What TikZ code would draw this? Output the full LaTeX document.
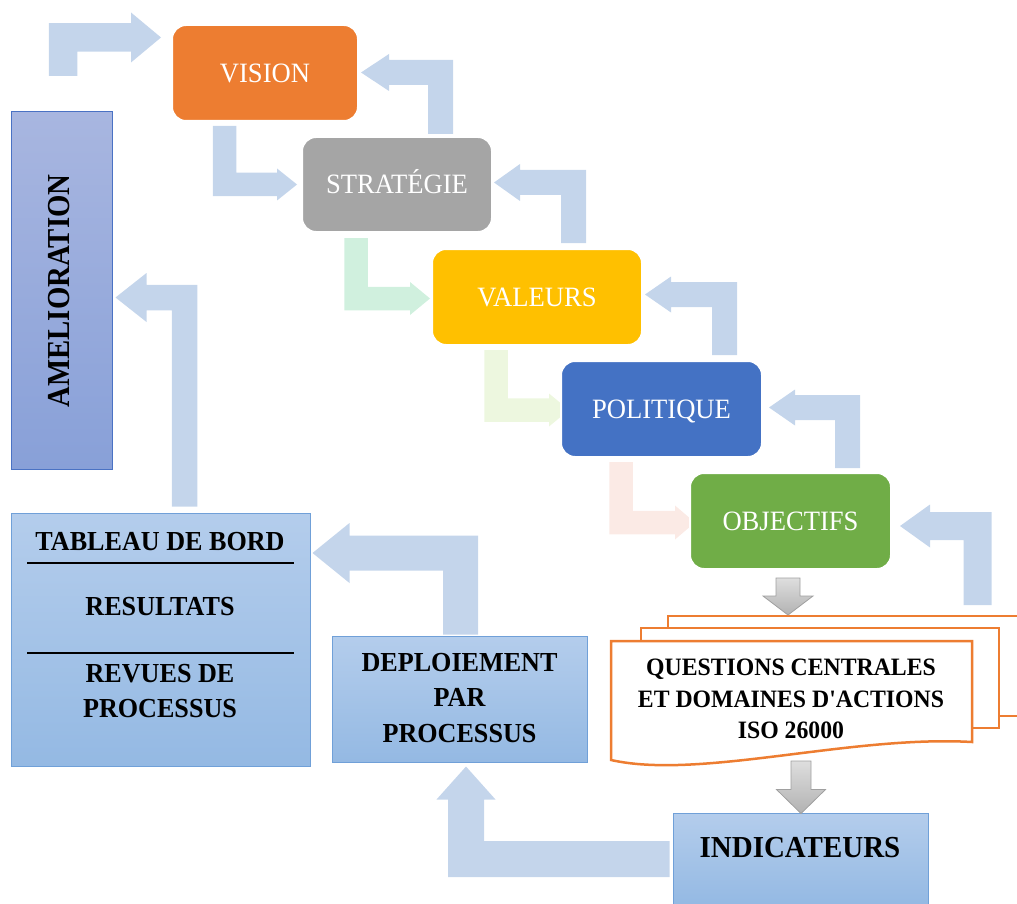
\documentclass[tikz,border=0pt]{standalone}
\usepackage{fontspec}
\setmainfont{Liberation Serif}[Ligatures=TeXOff,FakeStretch=0.95]
\newfontfamily\narrowserif{Liberation Serif}[Ligatures=TeXOff,FakeStretch=0.9]
\usetikzlibrary{calc,backgrounds}

% palette
\definecolor{flowblue}{RGB}{196,213,235}
\definecolor{flowmint}{RGB}{208,240,222}
\definecolor{flowlime}{RGB}{237,247,223}
\definecolor{flowpink}{RGB}{251,234,229}
\definecolor{cvision}{HTML}{ED7D31}
\definecolor{cstrat}{HTML}{A5A5A5}
\definecolor{cval}{HTML}{FFC000}
\definecolor{cpol}{HTML}{4472C4}
\definecolor{cobj}{HTML}{70AD47}
\definecolor{paneltop}{RGB}{180,205,236}
\definecolor{panelbottom}{RGB}{148,185,227}
\definecolor{panelline}{RGB}{112,160,216}
\definecolor{ameltop}{RGB}{168,182,224}
\definecolor{amelbottom}{RGB}{136,160,216}
\definecolor{amelline}{RGB}{74,114,196}
\definecolor{docorange}{HTML}{ED7D31}
\definecolor{graytop}{RGB}{222,222,222}
\definecolor{graybottom}{RGB}{178,178,178}
\definecolor{grayline}{RGB}{160,160,160}

\tikzset{
  stage/.style={rectangle, rounded corners=14pt, draw=white, line width=2pt,
    text=white, font=\fontsize{28}{33}\selectfont, text height=18.5pt,
    text depth=0pt, inner sep=0pt},
  panel/.style={rectangle, draw=panelline, line width=1pt, top color=paneltop,
    bottom color=panelbottom, inner sep=0pt},
  boldlabel/.style={anchor=base, inner sep=0pt,
    font=\bfseries\fontsize{27.5}{33}\selectfont},
  doclabel/.style={anchor=base, inner sep=0pt,
    font=\bfseries\fontsize{25}{30}\selectfont},
  page/.style={draw=docorange, line width=2.5pt, fill=white},
  grayarrow/.style={draw=grayline, line width=0.8pt, top color=graytop,
    bottom color=graybottom},
}

% bent block arrows: style, start (shaft end), tip, half shaft, half head, head length
\newcommand\flowDR[6]{% down, then right
  \path[#1] let \p1=#2, \p2=#3 in
    (\x1-#4,\y1) -- (\x1+#4,\y1) -- (\x1+#4,\y2+#4) -- (\x2-#6,\y2+#4)
    -- (\x2-#6,\y2+#5) -- (\x2,\y2) -- (\x2-#6,\y2-#5) -- (\x2-#6,\y2-#4)
    -- (\x1-#4,\y2-#4) -- cycle;}
\newcommand\flowUL[6]{% up, then left
  \path[#1] let \p1=#2, \p2=#3 in
    (\x1-#4,\y1) -- (\x1+#4,\y1) -- (\x1+#4,\y2+#4) -- (\x2+#6,\y2+#4)
    -- (\x2+#6,\y2+#5) -- (\x2,\y2) -- (\x2+#6,\y2-#5) -- (\x2+#6,\y2-#4)
    -- (\x1-#4,\y2-#4) -- cycle;}
\newcommand\flowUR[6]{% up, then right
  \path[#1] let \p1=#2, \p2=#3 in
    (\x1-#4,\y1) -- (\x1-#4,\y2+#4) -- (\x2-#6,\y2+#4) -- (\x2-#6,\y2+#5)
    -- (\x2,\y2) -- (\x2-#6,\y2-#5) -- (\x2-#6,\y2-#4) -- (\x1+#4,\y2-#4)
    -- (\x1+#4,\y1) -- cycle;}
\newcommand\flowLU[6]{% left, then up
  \path[#1] let \p1=#2, \p2=#3 in
    (\x1,\y1+#4) -- (\x2+#4,\y1+#4) -- (\x2+#4,\y2-#6) -- (\x2+#5,\y2-#6)
    -- (\x2,\y2) -- (\x2-#5,\y2-#6) -- (\x2-#4,\y2-#6) -- (\x2-#4,\y1-#4)
    -- (\x1,\y1-#4) -- cycle;}
\newcommand\flowDown[6]{% straight down
  \path[#1] let \p1=#2, \p2=#3 in
    (\x1-#4,\y1) -- (\x1+#4,\y1) -- (\x1+#4,\y2+#6) -- (\x2+#5,\y2+#6)
    -- (\x2,\y2) -- (\x2-#5,\y2+#6) -- (\x1-#4,\y2+#6) -- cycle;}

\begin{document}
\begin{tikzpicture}[x=1pt,y=-1pt]
\useasboundingbox (0,0) rectangle (1017,904);
\clip (0,0) rectangle (1017,904);

% strategy cascade
\node[stage, fill=cvision, minimum width=186pt, minimum height=96pt] (vision) at (265,73) {VISION};
\node[stage, fill=cstrat, minimum width=190pt, minimum height=95pt] (strat) at (397,184.5) {STRATÉGIE};
\node[stage, fill=cval, minimum width=210pt, minimum height=96pt] (val) at (537,297) {VALEURS};
\node[stage, fill=cpol, minimum width=201pt, minimum height=96pt] (pol) at (661.5,409) {POLITIQUE};
\node[stage, fill=cobj, minimum width=201pt, minimum height=96pt] (obj) at (790.5,521) {OBJECTIFS};

% improvement column
\node[rectangle, draw=amelline, line width=1pt, top color=ameltop, bottom color=amelbottom,
      inner sep=0pt, minimum width=101pt, minimum height=357pt] (amel) at (61.5,290.5) {};
\node[rotate=90, inner sep=0pt, font=\narrowserif\bfseries\fontsize{32}{38}\selectfont]
      (ameltext) at (59,291) {AMELIORATION};

% dashboard panel
\node[panel, minimum width=299pt, minimum height=253pt] (tab) at (160.5,639.5) {};
\node[boldlabel] (tab1) at (160,550) {TABLEAU DE BORD};
\draw[line width=2pt] (27,563) -- (294,563);
\node[boldlabel] (tab2) at (160,615) {RESULTATS};
\draw[line width=2pt] (27,653) -- (294,653);
\node[boldlabel] (tab3) at (160,682) {REVUES DE};
\node[boldlabel] (tab4) at (160,717) {PROCESSUS};

% deployment panel
\node[panel, minimum width=255pt, minimum height=126pt] (dep) at (459.5,699) {};
\node[boldlabel] (dep1) at (459.5,671) {DEPLOIEMENT};
\node[boldlabel] (dep2) at (459.5,706) {PAR};
\node[boldlabel] (dep3) at (459.5,742) {PROCESSUS};

% indicators panel
\node[panel, minimum width=255pt, minimum height=92pt] (ind) at (800.5,859) {};
\node[anchor=base, inner sep=0pt, font=\bfseries\fontsize{30.5}{36}\selectfont]
      (ind1) at (800,857) {INDICATEURS};

% stacked documents
\draw[page] (668,716) -- (668,616) -- (1040,616) -- (1040,716) -- cycle;
\draw[page] (641,728) -- (641,628) -- (999,628) -- (999,728) -- cycle;
\draw[page] (611,760) -- (611,641) -- (972,641) -- (972,742)
      .. controls (850,735) and (700,780) .. (611,760) -- cycle;
\node[doclabel] (doc1) at (791,675) {QUESTIONS CENTRALES};
\node[doclabel] (doc2) at (791,707) {ET DOMAINES D'ACTIONS};
\node[doclabel] (doc3) at (791,738) {ISO 26000};
\coordinate (doctop) at (788,615);
\coordinate (docbottom) at (801,761);
\coordinate (docside) at (977.5,605);
\coordinate (loopin) at (63,76);

% grey arrows through the documents
\flowDown{grayarrow}{([xshift=-2.5pt,yshift=-8pt]obj.south)}{(doctop)}{12pt}{25pt}{19pt}
\flowDown{grayarrow}{(docbottom)}{([xshift=0.5pt,yshift=-1pt]ind.north)}{10pt}{24.5pt}{24pt}

\begin{pgfonlayer}{background}
\clip (0,0) rectangle (1017,904);
% descending links
\flowDR{fill=flowblue}{([xshift=-40.5pt,yshift=-4pt]vision.south)}{([xshift=-4pt]strat.west)}{11.75pt}{16pt}{20pt}
\flowDR{fill=flowmint}{([xshift=-41pt,yshift=-5pt]strat.south)}{([xshift=-1pt,yshift=-1.5pt]val.west)}{11.75pt}{16.5pt}{20pt}
\flowDR{fill=flowlime}{([xshift=-41pt,yshift=-4pt]val.south)}{([xshift=9pt,yshift=-1pt]pol.west)}{11.75pt}{16.5pt}{20pt}
\flowDR{fill=flowpink}{([xshift=-40.5pt,yshift=-4pt]pol.south)}{([xshift=6pt,yshift=-1.5pt]obj.west)}{11.75pt}{17pt}{20pt}
% returning links
\flowUL{fill=flowblue}{([xshift=43.5pt,yshift=2pt]strat.north)}{([xshift=2pt,yshift=0.5pt]vision.east)}{12.5pt}{18.5pt}{28pt}
\flowUL{fill=flowblue}{([xshift=36.5pt,yshift=5pt]val.north)}{([xshift=1pt,yshift=2pt]strat.east)}{12.5pt}{18.5pt}{26pt}
\flowUL{fill=flowblue}{([xshift=63pt,yshift=5pt]pol.north)}{([xshift=2pt,yshift=2.5pt]val.east)}{12.5pt}{18pt}{26pt}
\flowUL{fill=flowblue}{([xshift=57pt,yshift=4pt]obj.north)}{([xshift=6pt,yshift=1.5pt]pol.east)}{12.5pt}{18pt}{26pt}
\flowUL{fill=flowblue}{(docside)}{([xshift=8pt,yshift=-5pt]obj.east)}{14pt}{21.5pt}{30pt}
% loop back into the vision
\flowUR{fill=flowblue}{(loopin)}{([xshift=-10pt,yshift=35.5pt]vision.west)}{14.25pt}{25pt}{30pt}
% dashboard to improvement
\flowUL{fill=flowblue}{([xshift=24pt,yshift=6pt]tab.north)}{([xshift=3pt,yshift=-7pt]amel.east)}{12.75pt}{24.5pt}{31pt}
% deployment to dashboard
\flowUL{fill=flowblue}{([xshift=1pt,yshift=1pt]dep.north)}{([xshift=2pt,yshift=86.5pt]tab.east)}{17.5pt}{30pt}{37pt}
% indicators to deployment
\flowLU{fill=flowblue}{([xshift=-3pt]ind.west)}{([xshift=6.5pt,yshift=-4pt]dep.south)}{18pt}{29.5pt}{33pt}
\end{pgfonlayer}
\end{tikzpicture}
\end{document}
